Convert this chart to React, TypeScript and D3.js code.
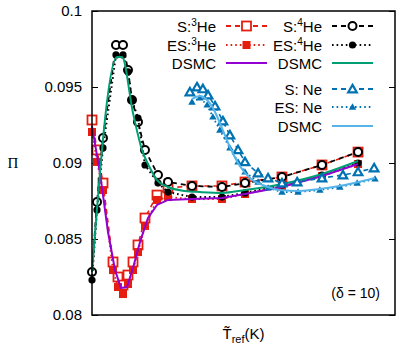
import React, { useEffect, useRef } from 'react';
import * as d3 from 'd3';

// x has no tick labels in the original; values are on a 0..100 relative scale
const yTicks = [0.08, 0.085, 0.09, 0.095, 0.1];
const yTickLabels = ['0.08', '0.085', '0.09', '0.095', '0.1'];

const xHe4 = [0, 1.65, 3.63, 7.92, 10.23, 11.88, 13.2, 15.18, 17.49, 21.78, 25.08, 33.0, 42.9, 50.5, 62.7, 75.9, 87.8];
const sHe4 = [0.08283, 0.08743, 0.09164, 0.09776, 0.09776, 0.09612, 0.09414, 0.0927, 0.09086, 0.08921, 0.08875, 0.08849, 0.08842, 0.08868, 0.08908, 0.08987, 0.09072];
const esHe4 = [0.0823, 0.08691, 0.09099, 0.09711, 0.09711, 0.09599, 0.09414, 0.09296, 0.08987, 0.08868, 0.08809, 0.08776, 0.08776, 0.08803, 0.08855, 0.08921, 0.09];

const xHe3 = [0, 1.65, 3.63, 6.93, 8.58, 10.23, 11.88, 13.53, 15.18, 17.49, 21.45, 25.08, 33.0, 42.9, 50.5, 62.7, 75.9, 87.8];
const sHe3 = [0.09283, 0.09086, 0.08868, 0.08349, 0.0825, 0.08197, 0.08263, 0.08349, 0.08461, 0.08638, 0.08789, 0.08836, 0.08849, 0.08849, 0.08875, 0.08908, 0.08987, 0.09072];
const esHe3 = [0.09204, 0.09007, 0.08822, 0.08296, 0.08184, 0.08138, 0.08204, 0.08296, 0.08414, 0.08586, 0.08757, 0.08776, 0.08763, 0.08763, 0.08796, 0.08849, 0.08914, 0.08993];

const xDsmcHe3 = [0, 2.64, 5.28, 7.59, 9.57, 11.55, 13.53, 15.84, 18.48, 21.45, 25.08, 33.0, 42.9, 50.5, 62.7, 75.9, 87.8];
const dsmcHe3 = [0.09243, 0.08934, 0.08546, 0.08296, 0.08178, 0.08184, 0.08309, 0.0848, 0.08638, 0.08724, 0.08757, 0.08763, 0.0877, 0.08796, 0.08842, 0.08914, 0.08993];

const xDsmcHe4 = [0, 8.25, 9.9, 13.53, 16.5, 19.14, 21.45, 25.08, 30.69, 35.64, 42.9, 50.5, 62.7, 75.9, 87.8];
const dsmcHe4 = [0.08283, 0.09697, 0.09697, 0.09329, 0.09086, 0.08967, 0.08888, 0.08842, 0.08816, 0.08809, 0.08803, 0.08822, 0.08862, 0.08928, 0.09013];

const xSNe = [32.3, 34.65, 36.6, 38.3, 40.6, 43.2, 45.5, 48.2, 50.5, 54.8, 58.1, 62.7, 67.7, 75.9, 82.8, 87.8, 93.1];
const sNe = [0.09467, 0.095, 0.09487, 0.09447, 0.09375, 0.09276, 0.09184, 0.09086, 0.09007, 0.08934, 0.08901, 0.08868, 0.08875, 0.08901, 0.08921, 0.08941, 0.08967];

const xEsNe = [33.0, 35.6, 38.0, 39.9, 42.2, 45.5, 48.2, 50.5, 54.8, 58.1, 62.7, 68.0, 75.2, 81.8, 87.5, 93.4];
const esNe = [0.09401, 0.09428, 0.09382, 0.09303, 0.09217, 0.09099, 0.09007, 0.08941, 0.08875, 0.08836, 0.08809, 0.08809, 0.08822, 0.08842, 0.08868, 0.08895];

const xDsmcNe = [33.0, 35.6, 38.3, 40.6, 42.9, 45.5, 48.8, 52.1, 57.1, 62.0, 68.6, 75.2, 83.5, 93.4];
const dsmcNe = [0.09421, 0.09441, 0.09408, 0.09336, 0.0923, 0.09105, 0.0898, 0.08901, 0.08849, 0.08822, 0.08816, 0.08829, 0.08855, 0.08901];

const RED = '#e51e10';
const PURPLE = '#9400d3';
const GREEN = '#009e73';
const BLUE = '#0072b2';
const LBLUE = '#56b4e9';
const FONT = '"Liberation Sans", Arial, sans-serif';

const App = () => {
    const svgRef = useRef(null);

    useEffect(() => {
        const width = 398;
        const height = 347;
        const m = { left: 92, right: 3, top: 11, bottom: 32 };
        const svg = d3.select(svgRef.current)
            .attr('width', width)
            .attr('height', height);
        svg.selectAll('*').remove();

        const x = d3.scaleLinear().domain([0, 100]).range([m.left, width - m.right]);
        const y = d3.scaleLinear().domain([0.08, 0.1]).range([height - m.bottom, m.top]);

        const zip = (xs, ys) => xs.map((v, i) => [v, ys[i]]);
        const line = d3.line().x(d => x(d[0])).y(d => y(d[1]));
        const smooth = d3.line().x(d => x(d[0])).y(d => y(d[1])).curve(d3.curveMonotoneX);

        // axes
        svg.append('g')
            .attr('transform', `translate(${m.left},0)`)
            .call(d3.axisLeft(y).tickValues(yTicks).tickSize(-6).tickPadding(10)
                .tickFormat((d, i) => yTickLabels[i]))
            .call(g => g.select('.domain').remove())
            .call(g => g.selectAll('line').attr('stroke-width', 1))
            .call(g => g.selectAll('text').style('font-family', FONT).style('font-size', '15px').attr('fill', '#000'));

        svg.append('g')
            .attr('transform', `translate(${width - m.right},0)`)
            .call(d3.axisRight(y).tickValues(yTicks).tickSize(-6).tickFormat(() => ''))
            .call(g => g.select('.domain').remove());

        const plot = svg.append('g');

        const drawLine = (data, color, dash, w, curve = false) => {
            plot.append('path')
                .datum(data)
                .attr('d', curve ? smooth : line)
                .attr('fill', 'none')
                .attr('stroke', color)
                .attr('stroke-width', w)
                .attr('stroke-dasharray', dash);
        };

        const marker = (g, type, cx, cy) => {
            if (type === 'oc') {
                g.append('circle').attr('cx', cx).attr('cy', cy).attr('r', 4)
                    .attr('fill', '#fff').attr('stroke', '#000').attr('stroke-width', 2);
            } else if (type === 'fc') {
                g.append('circle').attr('cx', cx).attr('cy', cy).attr('r', 3.6).attr('fill', '#000');
            } else if (type === 'os') {
                g.append('rect').attr('x', cx - 4.5).attr('y', cy - 4.5).attr('width', 9).attr('height', 9)
                    .attr('fill', '#fff').attr('stroke', RED).attr('stroke-width', 1.8);
            } else if (type === 'fs') {
                g.append('rect').attr('x', cx - 4).attr('y', cy - 4).attr('width', 8).attr('height', 8).attr('fill', RED);
            } else if (type === 'ot') {
                g.append('path').attr('transform', `translate(${cx},${cy + 0.8})`)
                    .attr('d', d3.symbol(d3.symbolTriangle, 32)())
                    .attr('fill', '#fff').attr('stroke', BLUE).attr('stroke-width', 2.2);
            } else if (type === 'ft') {
                g.append('path').attr('transform', `translate(${cx},${cy + 0.5})`)
                    .attr('d', d3.symbol(d3.symbolTriangle, 24)())
                    .attr('fill', BLUE);
            }
        };

        const drawMarkers = (data, type) => {
            const g = plot.append('g');
            data.forEach(d => marker(g, type, x(d[0]), y(d[1])));
        };

        // helium series
        drawLine(zip(xHe3, sHe3), RED, '5,4', 1.6);
        drawMarkers(zip(xHe3, sHe3), 'os');
        drawLine(zip(xHe3, esHe3), RED, '1.6,3', 1.8);
        drawMarkers(zip(xHe3, esHe3), 'fs');
        drawLine(zip(xHe4, sHe4), '#000', '5,4', 1.8);
        drawMarkers(zip(xHe4, sHe4), 'oc');
        drawLine(zip(xHe4, esHe4), '#000', '1.6,3', 2);
        drawMarkers(zip(xHe4, esHe4), 'fc');
        drawLine(zip(xDsmcHe3, dsmcHe3), PURPLE, null, 2);
        drawLine(zip(xDsmcHe4, dsmcHe4), GREEN, null, 2, true);

        // neon series
        drawLine(zip(xSNe, sNe), BLUE, '5,4', 1.6);
        drawMarkers(zip(xSNe, sNe), 'ot');
        drawLine(zip(xEsNe, esNe), BLUE, '1.6,3', 1.8);
        drawMarkers(zip(xEsNe, esNe), 'ft');
        drawLine(zip(xDsmcNe, dsmcNe), LBLUE, null, 2, true);

        // frame
        svg.append('rect')
            .attr('x', m.left).attr('y', m.top)
            .attr('width', width - m.right - m.left)
            .attr('height', height - m.bottom - m.top)
            .attr('fill', 'none').attr('stroke', '#000').attr('stroke-width', 1.5);

        // legend
        const legend = svg.append('g').style('font-family', FONT).style('font-size', '15px');
        const entries = [
            { col: 0, row: 26, pre: 'S:', sup: '3', post: 'He', color: RED, dash: '5,4', mk: 'os' },
            { col: 0, row: 45, pre: 'ES:', sup: '3', post: 'He', color: RED, dash: '1.6,3', mk: 'fs' },
            { col: 0, row: 63, pre: 'DSMC', color: PURPLE, dash: null, mk: null },
            { col: 1, row: 26, pre: 'S:', sup: '4', post: 'He', color: '#000', dash: '5,4', mk: 'oc' },
            { col: 1, row: 45, pre: 'ES:', sup: '4', post: 'He', color: '#000', dash: '1.6,3', mk: 'fc' },
            { col: 1, row: 63, pre: 'DSMC', color: GREEN, dash: null, mk: null },
            { col: 1, row: 89, pre: 'S: Ne', color: BLUE, dash: '5,4', mk: 'ot' },
            { col: 1, row: 107, pre: 'ES: Ne', color: BLUE, dash: '1.6,3', mk: 'ft' },
            { col: 1, row: 126, pre: 'DSMC', color: LBLUE, dash: null, mk: null },
        ];
        entries.forEach(e => {
            const tx = e.col === 0 ? 216 : 322;
            const lx = e.col === 0 ? 226 : 332;
            const t = legend.append('text')
                .attr('x', tx).attr('y', e.row + 5.5)
                .attr('text-anchor', 'end');
            t.append('tspan').text(e.pre);
            if (e.sup) {
                t.append('tspan').attr('dy', -6).style('font-size', '10px').text(e.sup);
                t.append('tspan').attr('dy', 6).text(e.post);
            }
            legend.append('line')
                .attr('x1', lx).attr('x2', lx + 41)
                .attr('y1', e.row).attr('y2', e.row)
                .attr('stroke', e.color).attr('stroke-width', 2)
                .attr('stroke-dasharray', e.dash);
            if (e.mk) marker(legend, e.mk, lx + 20.5, e.row);
        });

        // annotation
        svg.append('text')
            .attr('x', 380).attr('y', 298)
            .attr('text-anchor', 'end')
            .style('font-family', FONT).style('font-size', '14px')
            .text('(δ = 10)');

        // axis labels
        const xl = svg.append('text')
            .attr('x', (m.left + width - m.right) / 2).attr('y', 339)
            .attr('text-anchor', 'middle')
            .style('font-family', FONT).style('font-size', '15px');
        xl.append('tspan').text('T\u0303');
        xl.append('tspan').attr('dy', 4).style('font-size', '11px').text('ref');
        xl.append('tspan').attr('dy', -4).text('(K)');

        svg.append('text')
            .attr('x', 13).attr('y', 168)
            .attr('text-anchor', 'middle')
            .style('font-family', '"Liberation Serif", "DejaVu Serif", serif')
            .style('font-size', '15px')
            .text('Π');
    }, []);

    return <svg ref={svgRef} style={{ position: 'absolute', left: 0, top: 0 }}></svg>;
};

export default App;
